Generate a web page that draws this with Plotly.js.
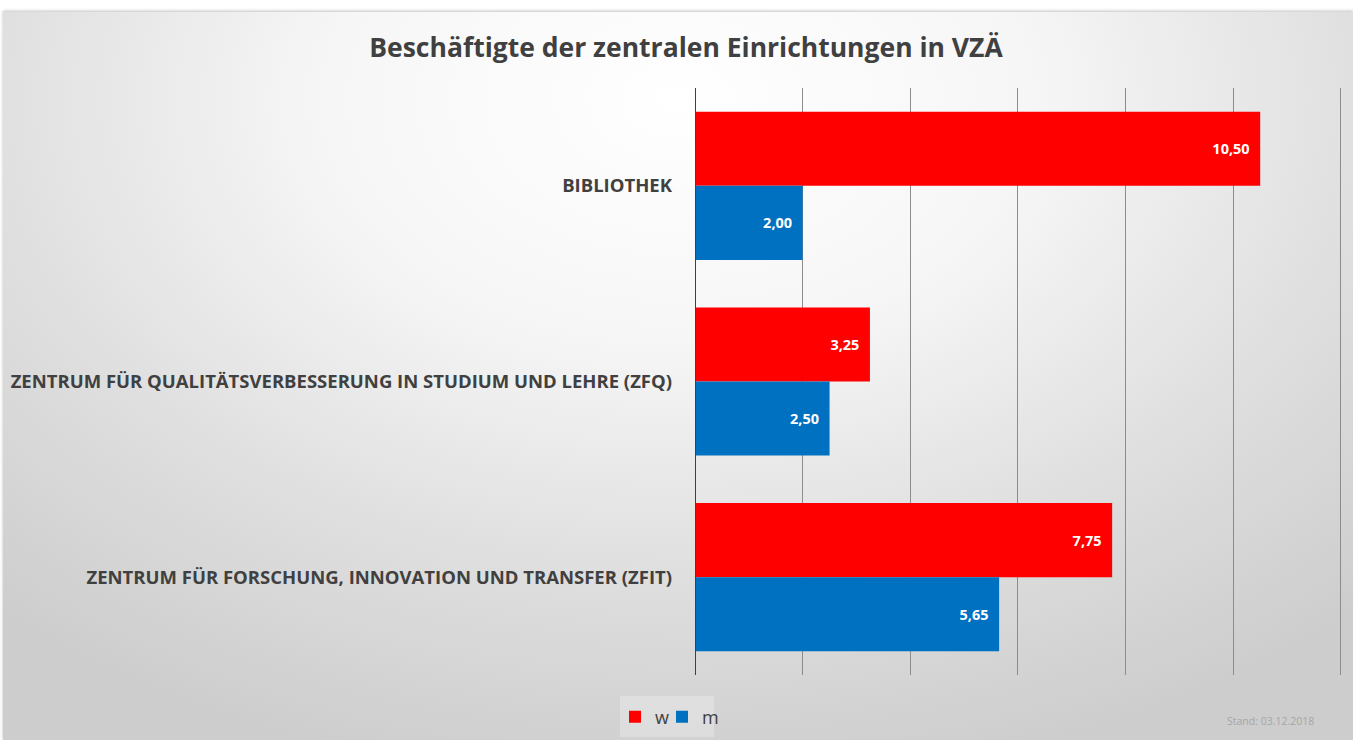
<!DOCTYPE html>
<html>
<head>
<meta charset="utf-8">
<script src="https://cdn.plot.ly/plotly-3.0.1.min.js"></script>
<style>
  html, body { margin: 0; padding: 0; background: #ffffff; width: 1353px; height: 740px; overflow: hidden; }
  #bg { position: absolute; top: 12px; left: 3px; width: 1350px; height: 728px;
        background: radial-gradient(ellipse 75% 95% at 50% 12%, #ffffff 0%, #f6f6f6 35%, #dedede 70%, #cdcdcd 100%);
        box-shadow: 0 -1px 3px rgba(0,0,0,0.25); }
  #legbg { position: absolute; left: 620px; top: 696px; width: 94px; height: 41px; background: rgba(255,255,255,0.25); }
  #chart { position: absolute; top: 0; left: 0; width: 1353px; height: 740px; }
</style>
</head>
<body>
<div id="bg"></div>
<div id="legbg"></div>
<div id="chart"></div>
<script>
const categories = [
  "BIBLIOTHEK",
  "ZENTRUM FÜR QUALITÄTSVERBESSERUNG IN STUDIUM UND LEHRE (ZFQ)",
  "ZENTRUM FÜR FORSCHUNG, INNOVATION UND TRANSFER (ZFIT)"
];
const seriesW = [10.50, 3.25, 7.75];
const seriesM = [2.00, 2.50, 5.65];
const seriesNames = ["w", "m"];
const fmt = v => v.toFixed(2).replace(".", ",") + "\u00a0\u00a0";

const FONT = "'Open Sans', Lato, sans-serif";

const mk = (name, vals, color, leg) => ({
  type: "bar", orientation: "h", name: name, legend: leg,
  y: categories, x: vals,
  marker: { color: color, line: { width: 0 } },
  text: vals.map(fmt), textposition: "inside", insidetextanchor: "end",
  textfont: { family: FONT, size: 14.5, color: "#ffffff", weight: 700 },
  hoverinfo: "x+y"
});

const data = [
  mk(seriesNames[0], seriesW, "#ff0000", "legend"),
  mk(seriesNames[1], seriesM, "#0070c0", "legend2")
];

const legendBase = {
  orientation: "h", xref: "container", yref: "container", xanchor: "left",
  y: 0.031, yanchor: "middle", bgcolor: "rgba(0,0,0,0)",
  font: { family: FONT, size: 18, color: "#404040" }, itemwidth: 30
};

const layout = {
  width: 1353, height: 740,
  paper_bgcolor: "rgba(0,0,0,0)", plot_bgcolor: "rgba(0,0,0,0)",
  margin: { l: 695, r: 11, t: 88, b: 65, pad: 0 },
  barmode: "group", bargap: 0.243, bargroupgap: 0,
  title: { text: "<b>Beschäftigte der zentralen Einrichtungen in VZÄ</b>",
           font: { family: FONT, size: 26.5, color: "#404040" },
           x: 0.507, xanchor: "center", y: 0.935, yanchor: "middle", xref: "container", yref: "container" },
  xaxis: { range: [0, 12.02], dtick: 2, tick0: 0, showticklabels: false, ticks: "",
           showgrid: true, gridcolor: "#8c8c8c", gridwidth: 1, zeroline: false, showline: false, fixedrange: true },
  yaxis: { autorange: "reversed", showgrid: false, zeroline: false, showline: false, ticks: "",
           ticklabelstandoff: 22,
           tickfont: { family: FONT, size: 18.5, color: "#404040", weight: 700 }, automargin: false },
  shapes: [{ type: "line", xref: "x", yref: "paper", x0: 0, x1: 0, y0: 0, y1: 1,
             line: { color: "#404040", width: 2 } }],
  showlegend: true,
  legend: Object.assign({}, legendBase, { x: 615 / 1353 }),
  legend2: Object.assign({}, legendBase, { x: 662 / 1353 }),
  annotations: [{ text: "Stand: 03.12.2018", xref: "paper", yref: "paper",
                  x: 0.89, y: -0.078, xanchor: "center", yanchor: "middle", showarrow: false,
                  font: { family: FONT, size: 10.5, color: "#a6a6a6" } }]
};

Plotly.newPlot("chart", data, layout, { displayModeBar: false, staticPlot: true });
</script>
</body>
</html>
